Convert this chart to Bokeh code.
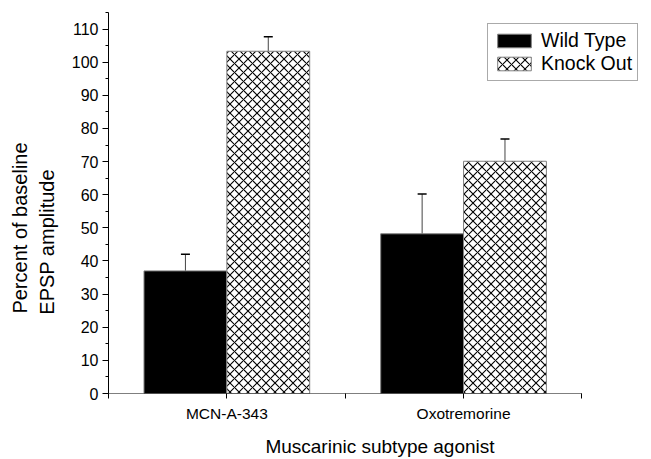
from bokeh.plotting import figure
from bokeh.models import (ColumnDataSource, FixedTicker, SingleIntervalTicker, Range1d,
                          Legend, LegendItem, Whisker, TeeHead)
from bokeh.embed import file_html
from bokeh.resources import INLINE

# ---- data ----
categories = ["MCN-A-343", "Oxotremorine"]
wild_type = [37.0, 48.2]
wild_type_err = [5.0, 12.0]
knock_out = [103.3, 70.1]
knock_out_err = [4.4, 6.7]
series_names = ["Wild Type", "Knock Out"]
x_title = "Muscarinic subtype agonist"
y_title_lines = ["Percent of baseline", "EPSP amplitude"]

FONT = "Liberation Sans"
BAR_W = 0.35
NB = "\u00a0"

pos = [i + 1 for i in range(len(categories))]
x_lo = 0.5
x_hi = len(categories) + 0.5
X_VIEW_END = 2.794  # frame extends to the right so the legend is not clipped

p = figure(width=651, height=459, output_backend="svg", toolbar_location=None,
           x_range=Range1d(x_lo, X_VIEW_END), y_range=Range1d(0, 115),
           min_border_left=108, min_border_right=0, min_border_top=12, min_border_bottom=64)
p.outline_line_color = None
p.xgrid.visible = False
p.ygrid.visible = False
p.background_fill_color = "white"
p.border_fill_color = "white"

wt_src = ColumnDataSource(dict(
    x=[c - BAR_W / 2 for c in pos], top=wild_type,
    upper=[v + e for v, e in zip(wild_type, wild_type_err)]))
ko_src = ColumnDataSource(dict(
    x=[c + BAR_W / 2 for c in pos], top=knock_out,
    upper=[v + e for v, e in zip(knock_out, knock_out_err)]))

r_wt = p.vbar(x="x", top="top", bottom=0, width=BAR_W, source=wt_src,
              fill_color="black", line_color="#7f7f7f", line_width=1)
r_ko = p.vbar(x="x", top="top", bottom=0, width=BAR_W, source=ko_src,
              fill_color="white", line_color="#7f7f7f", line_width=1,
              hatch_pattern="x", hatch_color="black", hatch_scale=9, hatch_weight=1.1)

for src in (wt_src, ko_src):
    w = Whisker(base="x", lower="top", upper="upper", source=src, dimension="height",
                line_color="#444444", line_width=1,
                upper_head=TeeHead(size=9, line_color="black", line_width=1.5),
                lower_head=None)
    p.add_layout(w)

# x axis line only over the category span
p.segment(x0=[x_lo], y0=[0], x1=[x_hi], y1=[0], line_color="black", line_width=1)

# axes
xa = p.xaxis[0]
xa.ticker = FixedTicker(ticks=[x_lo] + [c for c in pos] + [c + 0.5 for c in pos], minor_ticks=[])
overrides = {x_lo: ""}
for c, name in zip(pos, categories):
    overrides[c] = name
    overrides[c + 0.5] = ""
xa.major_label_overrides = overrides
xa.major_tick_out = 5
xa.major_tick_in = 0
xa.minor_tick_out = 0
xa.axis_line_color = None
xa.major_tick_line_color = "black"
xa.major_label_text_font = FONT
xa.major_label_text_font_size = "15.5px"
xa.major_label_text_color = "black"
xa.major_label_standoff = 6
xa.axis_label = x_title
xa.axis_label_text_font = FONT
xa.axis_label_text_font_size = "19px"
xa.axis_label_text_font_style = "normal"
xa.axis_label_text_color = "black"
xa.axis_label_standoff = 11

ya = p.yaxis[0]
ya.ticker = SingleIntervalTicker(interval=10, num_minor_ticks=2)
ya.major_tick_out = 6
ya.major_tick_in = 0
ya.minor_tick_out = 3
ya.minor_tick_in = 0
ya.axis_line_color = "black"
ya.major_tick_line_color = "black"
ya.minor_tick_line_color = "black"
ya.major_label_text_font = FONT
ya.major_label_text_font_size = "16px"
ya.major_label_text_color = "black"
ya.major_label_standoff = 4
ya.axis_label = y_title_lines[0] + NB * 9 + "\n" + y_title_lines[1] + NB * 14
ya.axis_label_text_font = FONT
ya.axis_label_text_font_size = "20px"
ya.axis_label_text_font_style = "normal"
ya.axis_label_text_color = "black"
ya.axis_label_standoff = 11

legend = Legend(items=[LegendItem(label=series_names[0], renderers=[r_wt]),
                       LegendItem(label=series_names[1], renderers=[r_ko])],
                location=(379, 312), orientation="vertical",
                glyph_width=42, glyph_height=17, label_height=17,
                label_standoff=6, spacing=0, padding=5, margin=0,
                label_text_font=FONT, label_text_font_size="19.5px", label_text_color="black",
                label_text_line_height=1.0,
                border_line_color="#555555", border_line_width=1,
                background_fill_color="white", background_fill_alpha=1)
p.add_layout(legend)

open("out.html", "w").write(file_html(p, INLINE))
